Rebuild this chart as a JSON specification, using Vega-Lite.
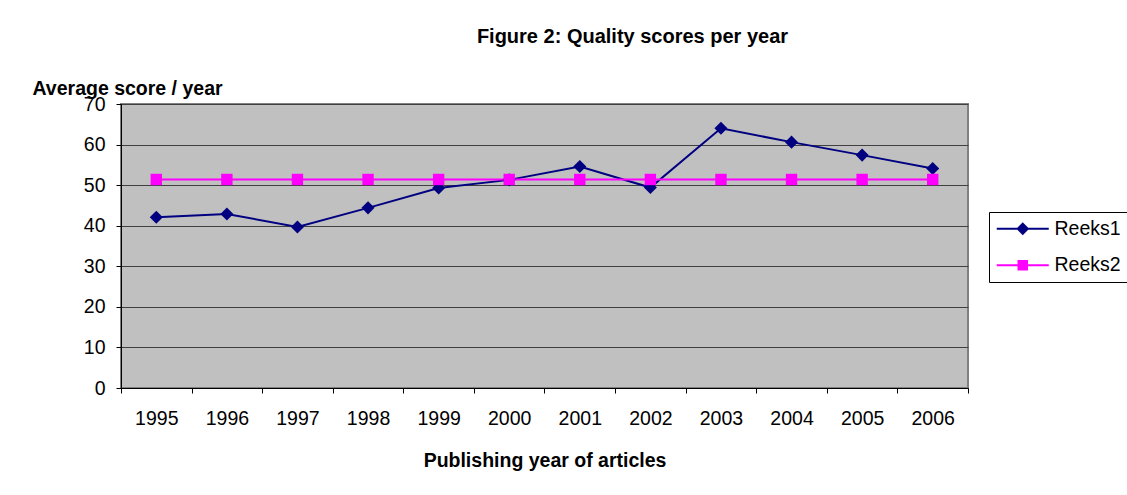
{
  "$schema": "https://vega.github.io/schema/vega-lite/v6.json",
  "width": 847,
  "height": 284,
  "autosize": {"type": "none"},
  "padding": {"left": 121, "top": 104, "right": 159, "bottom": 107},
  "background": "white",
  "title": {
    "text": "Figure 2: Quality scores per year",
    "anchor": "middle",
    "frame": "group",
    "fontSize": 20,
    "fontWeight": "bold",
    "font": "Liberation Sans",
    "color": "black",
    "dx": 88,
    "offset": 31
  },
  "data": {
    "values": [
      {"year": "1995", "series": "Reeks1", "score": 42.1},
      {"year": "1996", "series": "Reeks1", "score": 42.9},
      {"year": "1997", "series": "Reeks1", "score": 39.7},
      {"year": "1998", "series": "Reeks1", "score": 44.4},
      {"year": "1999", "series": "Reeks1", "score": 49.3},
      {"year": "2000", "series": "Reeks1", "score": 51.3},
      {"year": "2001", "series": "Reeks1", "score": 54.6},
      {"year": "2002", "series": "Reeks1", "score": 49.4},
      {"year": "2003", "series": "Reeks1", "score": 64.0},
      {"year": "2004", "series": "Reeks1", "score": 60.6},
      {"year": "2005", "series": "Reeks1", "score": 57.4},
      {"year": "2006", "series": "Reeks1", "score": 54.1},
      {"year": "1995", "series": "Reeks2", "score": 51.4},
      {"year": "1996", "series": "Reeks2", "score": 51.4},
      {"year": "1997", "series": "Reeks2", "score": 51.4},
      {"year": "1998", "series": "Reeks2", "score": 51.4},
      {"year": "1999", "series": "Reeks2", "score": 51.4},
      {"year": "2000", "series": "Reeks2", "score": 51.4},
      {"year": "2001", "series": "Reeks2", "score": 51.4},
      {"year": "2002", "series": "Reeks2", "score": 51.4},
      {"year": "2003", "series": "Reeks2", "score": 51.4},
      {"year": "2004", "series": "Reeks2", "score": 51.4},
      {"year": "2005", "series": "Reeks2", "score": 51.4},
      {"year": "2006", "series": "Reeks2", "score": 51.4}
    ]
  },
  "encoding": {
    "x": {
      "field": "year",
      "type": "ordinal",
      "scale": {"type": "band", "paddingInner": 0, "paddingOuter": 0},
      "axis": {
        "title": "Publishing year of articles",
        "labelAngle": 0,
        "tickBand": "extent",
        "tickSize": 5,
        "labelPadding": 16,
        "titlePadding": 24
      }
    },
    "y": {
      "field": "score",
      "type": "quantitative",
      "scale": {"domain": [0, 70], "nice": false},
      "axis": {
        "values": [0, 10, 20, 30, 40, 50, 60, 70],
        "title": "Average score / year",
        "titleAngle": 0,
        "titleAlign": "left",
        "titleBaseline": "alphabetic",
        "titleX": -89,
        "titleY": -10,
        "tickSize": 5,
        "labelPadding": 11,
        "grid": true,
        "gridColor": "#404040",
        "gridOpacity": 1,
        "gridWidth": 1
      }
    },
    "color": {
      "field": "series",
      "type": "nominal",
      "scale": {"domain": ["Reeks1", "Reeks2"], "range": ["#000080", "#FF00FF"]},
      "legend": {
        "title": null,
        "orient": "none",
        "legendX": 868,
        "legendY": 108,
        "strokeColor": "black",
        "fillColor": "white",
        "padding": 7,
        "rowPadding": 15.5,
        "symbolSize": 100,
        "symbolOffset": 17,
        "labelOffset": 22,
        "labelFontSize": 19.5,
        "labelFont": "Liberation Sans",
        "labelColor": "black",
        "labelLimit": 200,
        "encode": {
          "symbols": {
            "update": {
              "shape": {"signal": "datum.value === 'Reeks1' ? 'M-5.2,0L5.2,0M0,-1L1,0L0,1L-1,0Z' : 'M-5.2,0L5.2,0M-0.85,-0.85L0.85,-0.85L0.85,0.85L-0.85,0.85Z'"},
              "fill": {"signal": "scale('color', datum.value)"},
              "stroke": {"signal": "scale('color', datum.value)"},
              "strokeWidth": {"value": 2},
              "opacity": {"value": 1}
            }
          }
        }
      }
    }
  },
  "layer": [
    {
      "mark": {"type": "line", "strokeWidth": 2}
    },
    {
      "transform": [{"filter": "datum.series === 'Reeks1'"}],
      "mark": {"type": "point", "filled": true, "opacity": 1, "shape": "diamond", "size": 170}
    },
    {
      "transform": [{"filter": "datum.series === 'Reeks2'"}],
      "mark": {"type": "point", "filled": true, "opacity": 1, "shape": "square", "size": 130}
    }
  ],
  "config": {
    "font": "Liberation Sans",
    "view": {"fill": "#C0C0C0", "stroke": "#808080", "strokeWidth": 2},
    "axis": {
      "labelFont": "Liberation Sans",
      "labelFontSize": 19.5,
      "labelColor": "black",
      "titleFont": "Liberation Sans",
      "titleFontSize": 19.5,
      "titleFontWeight": "bold",
      "titleColor": "black",
      "domainColor": "black",
      "domainWidth": 1,
      "tickColor": "black",
      "tickWidth": 1
    }
  }
}
